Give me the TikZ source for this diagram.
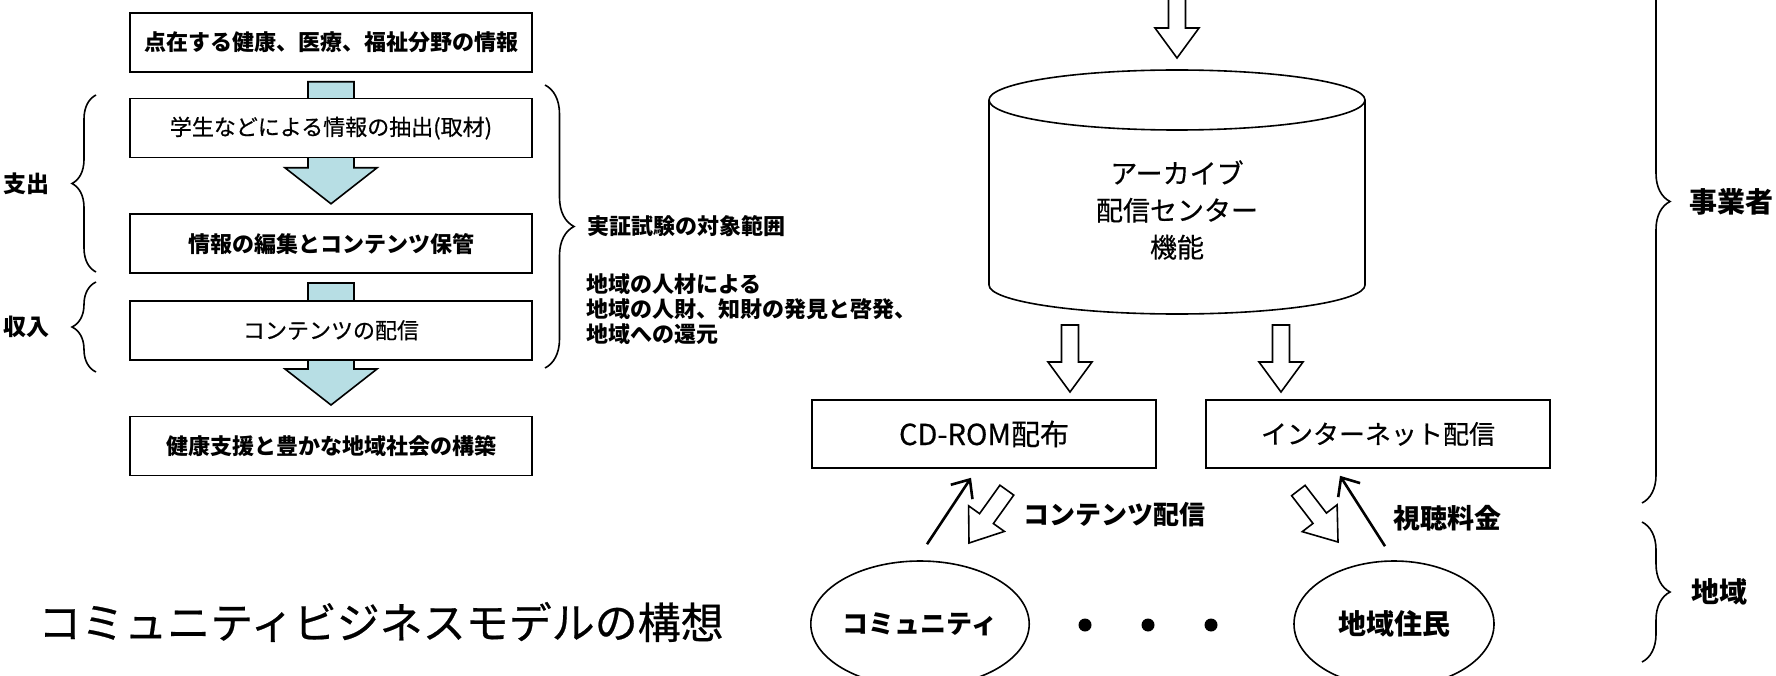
\documentclass[tikz,border=0pt]{standalone}
\usepackage{fontspec}
\setmainfont{Noto Sans CJK JP}[UprightFeatures={FakeBold=0.5}]
\usetikzlibrary{positioning,calc,arrows.meta,shapes.geometric,backgrounds}
\usetikzlibrary{decorations.pathreplacing}
\definecolor{flowblue}{RGB}{183,222,228}

\tikzset{
    flowbox/.style={draw, line width=1.6pt, fill=white, minimum width=402pt,
        minimum height=59pt, inner sep=0pt, font=\fontsize{22}{26}\selectfont},
    boldbox/.style={flowbox, font=\fontsize{22}{26}\selectfont\bfseries},
    mediabox/.style={draw, line width=1.6pt, minimum width=344pt,
        minimum height=68pt, inner sep=0pt, font=\fontsize{26}{30}\selectfont},
    user/.style={ellipse, draw, line width=1.6pt, minimum width=200pt,
        minimum height=126pt, inner sep=0pt, font=\fontsize{26}{30}\selectfont\bfseries},
    flowarrow/.style={draw, line width=1.6pt, fill=flowblue},
    hollow/.style={draw, line width=1.6pt, fill=white},
    pay/.style={line width=2.6pt, -{Straight Barb[length=15pt,width=26pt]}},
    bracket/.style={decorate, decoration={brace, amplitude=#1}, line width=1.6pt},
    sidetext/.style={font=\fontsize{23}{26}\selectfont\bfseries},
}

% hollow block arrow: tip, direction, length
\newcommand{\hollowarrow}[3]{%
    \draw[hollow, shift={#1}, rotate=#2] (0,0) -- (-30,22) -- (-30,8.5) -- (-#3,8.5)
        -- (-#3,-8.5) -- (-30,-8.5) -- (-30,-22) -- cycle;}

\begin{document}
\begin{tikzpicture}[x=1pt, y=-1pt]
    \useasboundingbox (0,0) rectangle (1776,676);

    % left: flow of the work
    \node[boldbox] (info) at (331,42.5) {点在する健康、医療、福祉分野の情報};
    \node[flowbox, below=25pt of info] (extract) {学生などによる情報の抽出(取材)};
    \node[boldbox, below=55pt of extract] (edit) {情報の編集とコンテンツ保管};
    \node[flowbox, below=26pt of edit] (deliver) {コンテンツの配信};
    \node[boldbox, below=55pt of deliver] (build) {健康支援と豊かな地域社会の構築};

    \begin{scope}[on background layer]
    \foreach \src in {info, edit}
        \draw[flowarrow] ($(\src.south)+(-23,9)$) -- ++(0,86) -- ++(-23,0) -- ++(46,36)
            -- ++(46,-36) -- ++(-23,0) -- ++(0,-86) -- cycle;
    \end{scope}

    % Braces for cost and income
    \draw[bracket=24pt] (96,272) -- (96,95) node[midway, left=42pt, sidetext] {支出};
    \draw[bracket=24pt] (96,372) -- (96,282) node[midway, left=42pt, sidetext] {収入};

    % Brace for the range of the trial
    \draw[bracket=29pt] (545,85) -- (545,368)
        node[midway, right=38pt, sidetext, font=\fontsize{22}{25}\selectfont\bfseries] {実証試験の対象範囲};
    \node[sidetext, font=\fontsize{22}{25}\selectfont\bfseries, anchor=west, align=left] (aim) at (583,309)
        {地域の人材による\\地域の人財、知財の発見と啓発、\\地域への還元};

    \node[font=\fontsize{43}{50}\selectfont] (title) at (381,622) {コミュニティビジネスモデルの構想};

    % right: archive and delivery
    \draw[line width=1.6pt] (989,100) -- (989,285)
        arc[start angle=180, end angle=0, x radius=188, y radius=29] -- (1365,100);
    \draw[line width=1.6pt] (1177,100) ellipse[x radius=188, y radius=30];
    \node[font=\fontsize{27}{37}\selectfont, align=center] (archive) at (1177,210)
        {アーカイブ\\配信センター\\機能};

    \hollowarrow{(1177,58)}{-90}{72}
    \hollowarrow{(1070,392)}{-90}{67}
    \hollowarrow{(1281,392)}{-90}{67}

    \node[mediabox, font=\fontsize{29}{32}\selectfont] (cdrom) at (984,434) {CD-ROM配布};
    \node[mediabox] (net) at (1378,434) {インターネット配信};

    \node[user] (comm) at (920,624) {コミュニティ};
    \node[user, font=\fontsize{28}{32}\selectfont\bfseries] (resident) at (1394,624) {地域住民};
    \foreach \x in {1085,1148,1211}
        \fill (\x,625) circle[radius=6.5];

    \hollowarrow{(969,543)}{234.4}{65}
    \hollowarrow{(1338,542)}{-52.4}{65}
    \draw[pay] ($(comm.north)+(7,-16)$) -- ($(cdrom.south)+(-13,9)$);
    \draw[pay] ($(resident.north)+(-9,-14)$) -- ($(net.south)+(-38,7)$);

    \node[font=\fontsize{26}{30}\selectfont\bfseries, anchor=west] (content) at (1020,515) {コンテンツ配信};
    \node[font=\fontsize{27}{30}\selectfont\bfseries, anchor=west] (fee) at (1390,518) {視聴料金};

    % Braces for operator and region
    \draw[bracket=28pt] (1642,-100) -- (1642,503)
        node[midway, right=43pt, font=\fontsize{28}{32}\selectfont\bfseries] {事業者};
    \draw[bracket=28pt] (1642,522) -- (1642,662)
        node[midway, right=45pt, font=\fontsize{28}{32}\selectfont\bfseries] {地域};
\end{tikzpicture}
\end{document}
